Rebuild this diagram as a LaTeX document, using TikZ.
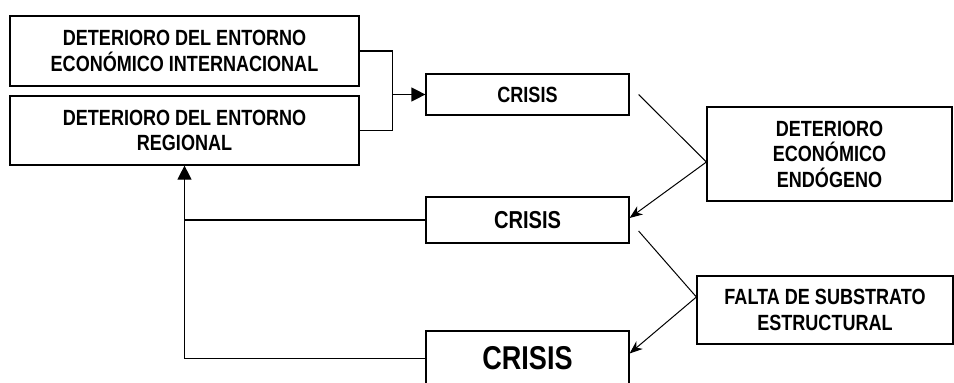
\documentclass[tikz,border=0pt]{standalone}
\usepackage{fontspec}
\setmainfont{Liberation Sans}[FakeStretch=0.82]
\usetikzlibrary{arrows.meta,calc,positioning}

\tikzset{
  box/.style={draw, rectangle, align=center, inner sep=0pt, line width=1.2pt,
    font=\bfseries\fontsize{22}{25.5}\selectfont},
  fill tip/.style={-{Triangle[length=14pt,width=14pt]}},
  open tip/.style={-{Stealth[length=13pt,width=10pt,inset=4pt]}}
}

\begin{document}
\begin{tikzpicture}[x=1pt, y=-1pt, line width=1.2pt]
 \clip (0,0) rectangle (954,383);

 \node[box, minimum width=349pt, minimum height=70pt] (int) at (184.5,51) {DETERIORO DEL ENTORNO\\ECONÓMICO INTERNACIONAL};
 \node[box, minimum width=349pt, minimum height=69pt] (reg) at (184.5,130.5) {DETERIORO DEL ENTORNO\\REGIONAL};

 \node[box, minimum width=203pt, minimum height=41pt] (c1) at (527.5,94.5) {CRISIS};
 \node[box, minimum width=203pt, minimum height=46pt, font=\bfseries\fontsize{24.5}{28}\selectfont] (c2) at (527.5,220) {CRISIS};
 \node[box, minimum width=203pt, minimum height=55pt, font=\bfseries\fontsize{33}{36}\selectfont] (c3) at (527.5,358.5) {CRISIS};

 \node[box, minimum width=245pt, minimum height=94pt] (endo) at (829.5,154) {DETERIORO\\ECONÓMICO\\ENDÓGENO};
 \node[box, minimum width=256pt, minimum height=68pt] (falta) at (825,310) {FALTA DE SUBSTRATO\\ESTRUCTURAL};

 \draw (int.east) -- ++(33,0) coordinate (j1) |- (reg.east);
 \draw[fill tip] (j1 |- c1.west) -- (c1.west);

 \coordinate (s1) at ([xshift=9pt]c1.east);
 \coordinate (e1) at ([yshift=-8pt]endo.west);
 \coordinate (s2) at ([xshift=9pt,yshift=-11pt]c2.east);
 \coordinate (e2) at ([yshift=13pt]falta.west);

 \draw[line width=1pt] (s1) -- (e1);
 \draw[line width=1pt, open tip] (e1) -- ([yshift=2pt]c2.east);
 \draw[line width=1pt] (s2) -- (e2);
 \draw[line width=1pt, open tip] (e2) -- ([yshift=5pt]c3.east);

 \draw (c2.west) -- (c2.west -| reg.south);
 \draw[fill tip] (c3.west) -| (reg.south);
\end{tikzpicture}
\end{document}
